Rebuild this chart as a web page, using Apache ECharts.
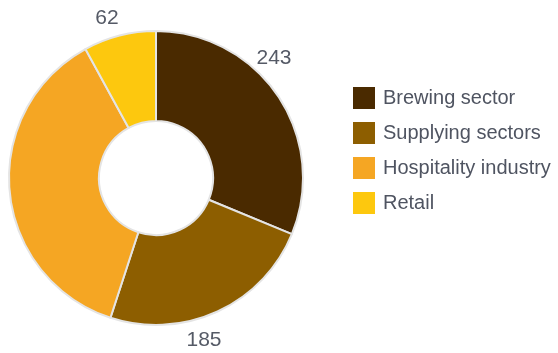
<!DOCTYPE html>
<html>
<head>
<meta charset="utf-8" />
<title></title>
<script src="https://cdn.jsdelivr.net/npm/echarts@6/dist/echarts.min.js"></script>
<style>
  html, body { margin: 0; padding: 0; background: #fff; }
</style>
</head>
<body>
<div id="chart" style="width: 558px;height: 353px;"></div>
<script type="text/javascript">
  // data
  var categories = ['Brewing sector', 'Supplying sectors', 'Hospitality industry', 'Retail'];
  var values = [243, 185, 288, 62];
  var colors = ['#4a2a00', '#8d5e00', '#f5a623', '#fdc80e'];
  // where each number label sits (centre of the text)
  var labelPos = [[274, 58], [204, 340], [30, 62], [107, 18]];

  var seriesData = categories.map(function (name, i) {
    return { name: name, value: values[i], itemStyle: { color: colors[i] } };
  });

  var myChart = echarts.init(document.getElementById('chart'));
  myChart.setOption({
    animation: false,
    legend: {
      orient: 'vertical',
      left: 353,
      top: 87,
      padding: 0,
      icon: 'rect',
      itemWidth: 22,
      itemHeight: 22,
      itemGap: 13,
      itemStyle: { borderWidth: 0 },
      data: categories,
      textStyle: {
        fontFamily: 'Liberation Sans, Arial, sans-serif',
        fontSize: 20,
        lineHeight: 22,
        color: '#4f5461',
        padding: [0, 0, 0, 3]
      }
    },
    series: [{
      type: 'pie',
      center: [156, 178],
      radius: [57, 147],
      startAngle: 90,
      clockwise: true,
      silent: true,
      itemStyle: { borderColor: '#e4e4e4', borderWidth: 2 },
      label: {
        show: true,
        position: 'outside',
        formatter: '{c}',
        fontFamily: 'Liberation Sans, Arial, sans-serif',
        fontSize: 21,
        color: '#555a66'
      },
      labelLine: { show: false },
      labelLayout: function (params) {
        var p = labelPos[params.dataIndex];
        return { x: p[0], y: p[1], align: 'center', verticalAlign: 'middle' };
      },
      data: seriesData
    }]
  });
</script>
</body>
</html>
